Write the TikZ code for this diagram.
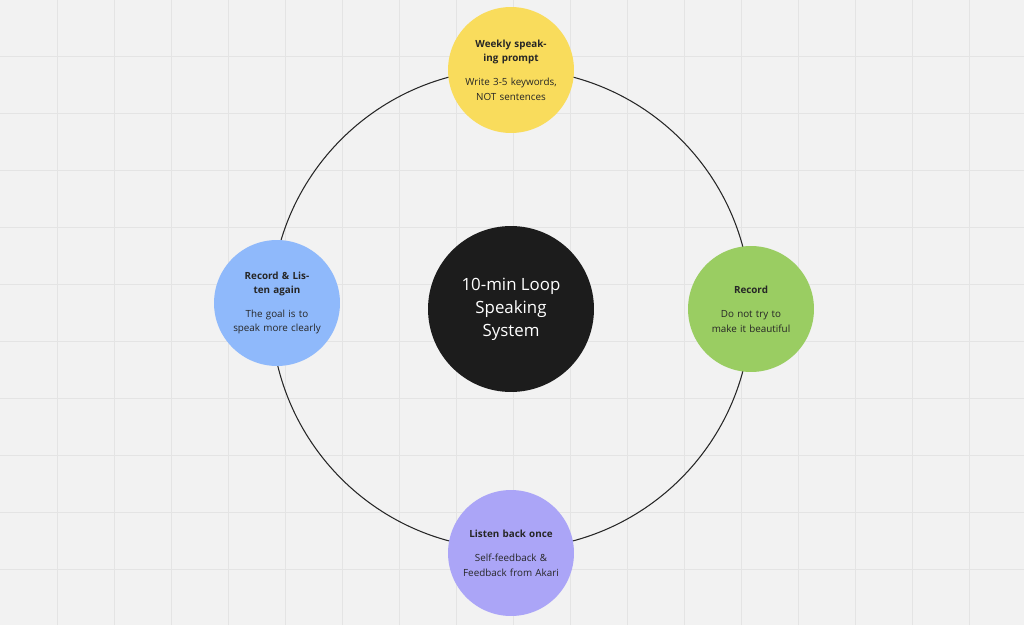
\documentclass[tikz,border=0pt]{standalone}
\usepackage{fontspec}
\setmainfont{Open Sans}
\definecolor{bggray}{HTML}{F2F2F2}
\definecolor{gridgray}{HTML}{E4E4E4}
\definecolor{stepyellow}{HTML}{F9DC5C}
\definecolor{stepgreen}{HTML}{9ACD62}
\definecolor{steppurple}{HTML}{ABA5F7}
\definecolor{stepblue}{HTML}{8FB9FB}
\definecolor{hubblack}{HTML}{1C1C1C}
\tikzset{
  loopstep/.style={circle, minimum size=2.52cm, inner sep=0pt, align=center, text width=2.1cm, font=\fontsize{5.6}{8}\selectfont, text=black!85},
  hub/.style={circle, fill=hubblack, minimum size=3.32cm, align=center, text=white, font=\fontsize{9.6}{13}\selectfont}
}
\begin{document}
\begin{tikzpicture}[x=0.02cm, y=-0.02cm]
        \fill[bggray] (0,0) rectangle (1024,625);
        \useasboundingbox (0,0) rectangle (1024,625);
        \foreach \gx in {57,114,...,1000} \draw[gridgray, line width=0.5pt] (\gx,0) -- (\gx,625);
        \foreach \gy in {56,113,...,620} \draw[gridgray, line width=0.5pt] (0,\gy) -- (1024,\gy);
        \node[hub] (hub) at (511,309) {10-min Loop\\Speaking\\System};
        \draw[black!85, line width=0.6pt] (hub.center) circle (240);
        \node[loopstep, fill=stepyellow] (prompt) at (511,70) {\textbf{Weekly speaking prompt}\\[6pt] Write 3-5 keywords, NOT sentences};
        \node[loopstep, fill=stepgreen] (record) at (751,309) {\textbf{Record}\\[6pt] Do not try to make it beautiful};
        \node[loopstep, fill=steppurple] (listen) at (511,553) {\textbf{Listen back once}\\[6pt] Self-feedback \& Feedback from Akari};
        \node[loopstep, fill=stepblue] (again) at (277,303) {\textbf{Record \& Listen again}\\[6pt] The goal is to speak more clearly};
    \end{tikzpicture}
\end{document}
